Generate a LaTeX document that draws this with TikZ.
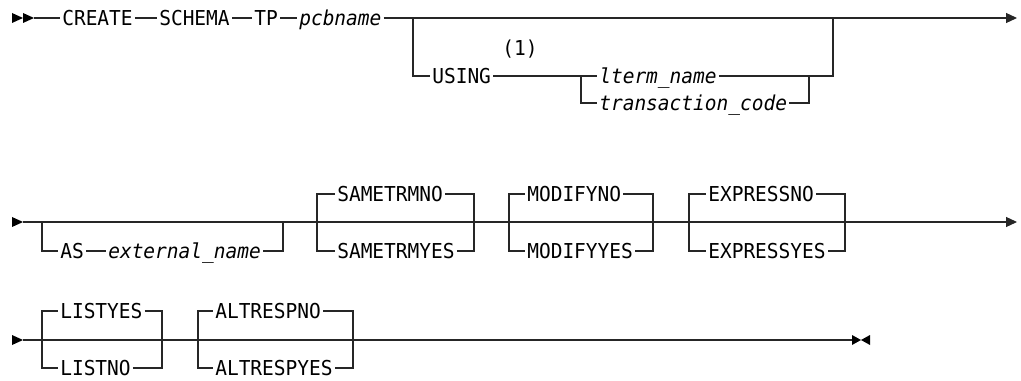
\documentclass[tikz,border=0pt]{standalone}
\usepackage{fontspec}
\setmonofont[FakeStretch=0.95]{DejaVu Sans Mono}
\usepackage{tikz}
\usetikzlibrary{arrows.meta,positioning,calc}

\begin{document}
\begin{tikzpicture}[x=0.75pt, y=-0.75pt, >={Triangle[length=8.25pt, width=7.5pt]},
  every node/.style={font=\fontsize{15.4}{18}\selectfont\ttfamily, inner xsep=1.5pt,
    inner ysep=0pt, text height=11.2pt, text depth=0pt, anchor=west},
  kw/.style={},
  var/.style={font=\fontsize{15.4}{18}\selectfont\ttfamily\itshape},
  rail/.style={line width=0.9pt, black!85}]
  \useasboundingbox (0,0) rectangle (1021,381);

  % first line
  \fill (12,13) -- (23,18) -- (12,23) -- cycle;
  \fill (23,13) -- (34,18) -- (23,23) -- cycle;
  \coordinate (s1) at (34,18);
  \coordinate (e1) at (1017,18);
  \node[kw] (create) at (60,18) {CREATE};
  \node[kw] (schema) at (157,18) {SCHEMA};
  \node[kw] (tp) at (252,18) {TP};
  \node[var] (pcb) at (297,18) {pcbname};
  \node[kw] (using) at (430,76) {USING};
  \node[kw, anchor=center] (note) at (520,48) {(1)};
  \node[var] (lterm) at (597,76) {lterm\_name};
  \node[var] (tcode) at (597,103) {transaction\_code};
  \coordinate (u1) at (413,18);
  \coordinate (u2) at (833,18);
  \coordinate (u3) at (581,76);
  \coordinate (u4) at (809,76);
  \draw[rail] (s1) -- (create);
  \draw[rail] (create) -- (schema);
  \draw[rail] (schema) -- (tp);
  \draw[rail] (tp) -- (pcb);
  \draw[rail,->] (pcb) -- (e1);
  \draw[rail] (u1) |- (using);
  \draw[rail] (using) -- (u3) -- (lterm);
  \draw[rail] (lterm) -| (u2);
  \draw[rail] (u3) |- (tcode);
  \draw[rail] (tcode) -| (u4);

  % second line
  \fill (12,217) -- (23,222) -- (12,227) -- cycle;
  \coordinate (s2) at (23,222);
  \coordinate (e2) at (1017,222);
  \draw[rail,->] (s2) -- (e2);
  \node[kw] (as) at (58,251) {AS};
  \node[var] (extname) at (106,251) {external\_name};
  \coordinate (a1) at (42,222);
  \coordinate (a2) at (283,222);
  \draw[rail] (a1) |- (as);
  \draw[rail] (as) -- (extname);
  \draw[rail] (extname) -| (a2);
  % three pairs with defaults on top
  \foreach \n/\l/\t/\r/\up/\dn in {sm/317/335/474/SAMETRMNO/SAMETRMYES,
      md/509/525/653/MODIFYNO/MODIFYYES,
      ex/689/706/845/EXPRESSNO/EXPRESSYES} {
    \node[kw] (\n no) at (\t,194) {\up};
    \node[kw] (\n yes) at (\t,251) {\dn};
    \coordinate (\n l) at (\l,222);
    \coordinate (\n r) at (\r,222);
    \draw[rail] (\n l) |- (\n no);
    \draw[rail] (\n no) -| (\n r);
    \draw[rail] (\n l) |- (\n yes);
    \draw[rail] (\n yes) -| (\n r);
  }

  % third line
  \fill (12,335) -- (23,340) -- (12,345) -- cycle;
  \coordinate (s3) at (23,340);
  \coordinate (e3) at (852,340);
  \draw[rail] (s3) -- (e3);
  \fill (852,335) -- (861,340) -- (852,345) -- cycle;
  \fill (870,335) -- (861,340) -- (870,345) -- cycle;
  \foreach \n/\l/\t/\r/\up/\dn in {ls/42/58/162/LISTYES/LISTNO,
      ar/198/213/353/ALTRESPNO/ALTRESPYES} {
    \node[kw] (\n no) at (\t,311) {\up};
    \node[kw] (\n yes) at (\t,368) {\dn};
    \coordinate (\n l) at (\l,340);
    \coordinate (\n r) at (\r,340);
    \draw[rail] (\n l) |- (\n no);
    \draw[rail] (\n no) -| (\n r);
    \draw[rail] (\n l) |- (\n yes);
    \draw[rail] (\n yes) -| (\n r);
  }
\end{tikzpicture}
\end{document}
